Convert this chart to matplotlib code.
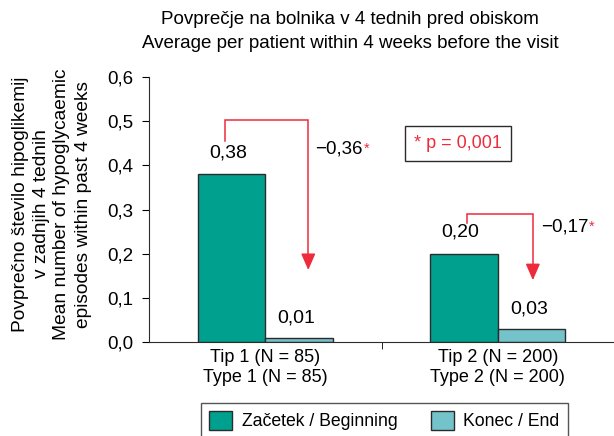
"""Mean hypoglycaemic episodes per patient, beginning vs end, by diabetes type."""
import matplotlib as mpl
import matplotlib.pyplot as plt
import numpy as np
from matplotlib.patches import Patch

mpl.rcParams["font.family"] = ["Liberation Sans", "DejaVu Sans"]
mpl.rcParams["font.size"] = 12.5

# data
groups = ["Tip 1 (N = 85)\nType 1 (N = 85)", "Tip 2 (N = 200)\nType 2 (N = 200)"]
beginning = [0.38, 0.20]
end = [0.01, 0.03]
changes = ["\u22120,36", "\u22120,17"]
series_names = ["Za\u010detek / Beginning", "Konec / End"]
p_text = "* p = 0,001"
ylab_lines = ["Povpre\u010dno \u0161tevilo hipoglikemij", "v zadnjih 4 tednih",
              "Mean number of hypoglycaemic", "episodes within past 4 weeks"]

c_begin = "#00a08f"
c_end = "#74c3cb"
c_red = "#ee2b3b"
c_edge = "#2b2b2b"

fig = plt.figure(figsize=(6.14, 4.36), dpi=100)
ax = fig.add_axes([149 / 614, 1 - 342 / 436, 1 - 149 / 614, (342 - 77) / 436])

x = np.arange(len(groups))
w = 0.29
ax.bar(x - w / 2, beginning, w, color=c_begin, edgecolor=c_edge, linewidth=1)
ax.bar(x + w / 2, end, w, color=c_end, edgecolor=c_edge, linewidth=1)

# value labels above bars
for xi, v in zip(x - w / 2, beginning):
    ax.text(xi - 0.015, v + 0.048, f"{v:.2f}".replace(".", ","), ha="center", va="center",
            fontsize=14)
for xi, v in zip(x + w / 2, end):
    ax.text(xi - 0.01, v + 0.045, f"{v:.2f}".replace(".", ","), ha="center", va="center",
            fontsize=14)

# red bracket arrows showing the change
brackets = [
    # x_left, y_left_bottom, y_top, x_right, y_tip
    (-0.172, 0.455, 0.503, 0.185, 0.163),
    (0.866, 0.27, 0.29, 1.151, 0.14),
]
label_pos = [(0.215, 0.437), (1.185, 0.26)]
for (xl, yb, yt, xr, tip), (lx, ly), txt in zip(brackets, label_pos, changes):
    ax.plot([xl, xl, xr, xr], [yb, yt, yt, tip + 0.03], color=c_red, lw=1.1,
            solid_joinstyle="miter")
    ax.annotate("", xy=(xr, tip), xytext=(xr, tip + 0.035),
                arrowprops=dict(arrowstyle="-|>,head_length=0.8,head_width=0.35",
                                color=c_red, lw=1.1, shrinkA=0, shrinkB=0))
    t = ax.text(lx, ly, txt, ha="left", va="center", fontsize=13.5)
    ax.annotate("*", xy=(1, 1), xycoords=t, xytext=(0.5, -1), textcoords="offset points",
                ha="left", va="top", color=c_red, fontsize=10.5)

ax.text(0.83, 0.45, p_text, color=c_red, ha="center", va="center", fontsize=13,
        bbox=dict(boxstyle="square,pad=0.5", fc="white", ec=c_edge, lw=1))

ax.set_xlim(-0.5, 1.5)
ax.set_ylim(0, 0.6)
ax.set_yticks(np.arange(0, 0.61, 0.1))
ax.set_yticklabels([f"{v:.1f}".replace(".", ",") for v in np.arange(0, 0.61, 0.1)],
                   fontsize=13.5)
ax.set_xticks(x)
ax.set_xticklabels(groups, linespacing=1.25, fontsize=13)
ax.tick_params(axis="x", length=0, pad=5)
ax.set_xticks([0.5], minor=True)
ax.tick_params(axis="x", which="minor", length=5, direction="out")
ax.tick_params(axis="y", length=5, direction="out", pad=6)
for side in ("top", "right"):
    ax.spines[side].set_visible(False)
for side in ("left", "bottom"):
    ax.spines[side].set_color(c_edge)

fig.text(0.57, 1 - 20 / 436, "Povpre\u010dje na bolnika v 4 tednih pred obiskom",
         ha="center", va="center", fontsize=13.5)
fig.text(0.57, 1 - 43 / 436, "Average per patient within 4 weeks before the visit",
         ha="center", va="center", fontsize=13.5)

# y-axis label, one line at a time
for px, line in zip([21, 42, 62, 83], ylab_lines):
    fig.text(px / 614, 1 - 204 / 436, line, rotation=90, ha="center", va="center",
             fontsize=13.8)

handles = [Patch(facecolor=c_begin, edgecolor=c_edge), Patch(facecolor=c_end, edgecolor=c_edge)]
fig.legend(handles, series_names, loc="upper left", bbox_to_anchor=(201 / 614, 1 - 403 / 436),
           ncol=2, frameon=True, fancybox=False, edgecolor=c_edge, handlelength=1.3,
           handleheight=1.3, columnspacing=1.9, borderpad=0.45, handletextpad=0.55,
           borderaxespad=0, fontsize=12.7)

fig.savefig("out.png", dpi=100)
